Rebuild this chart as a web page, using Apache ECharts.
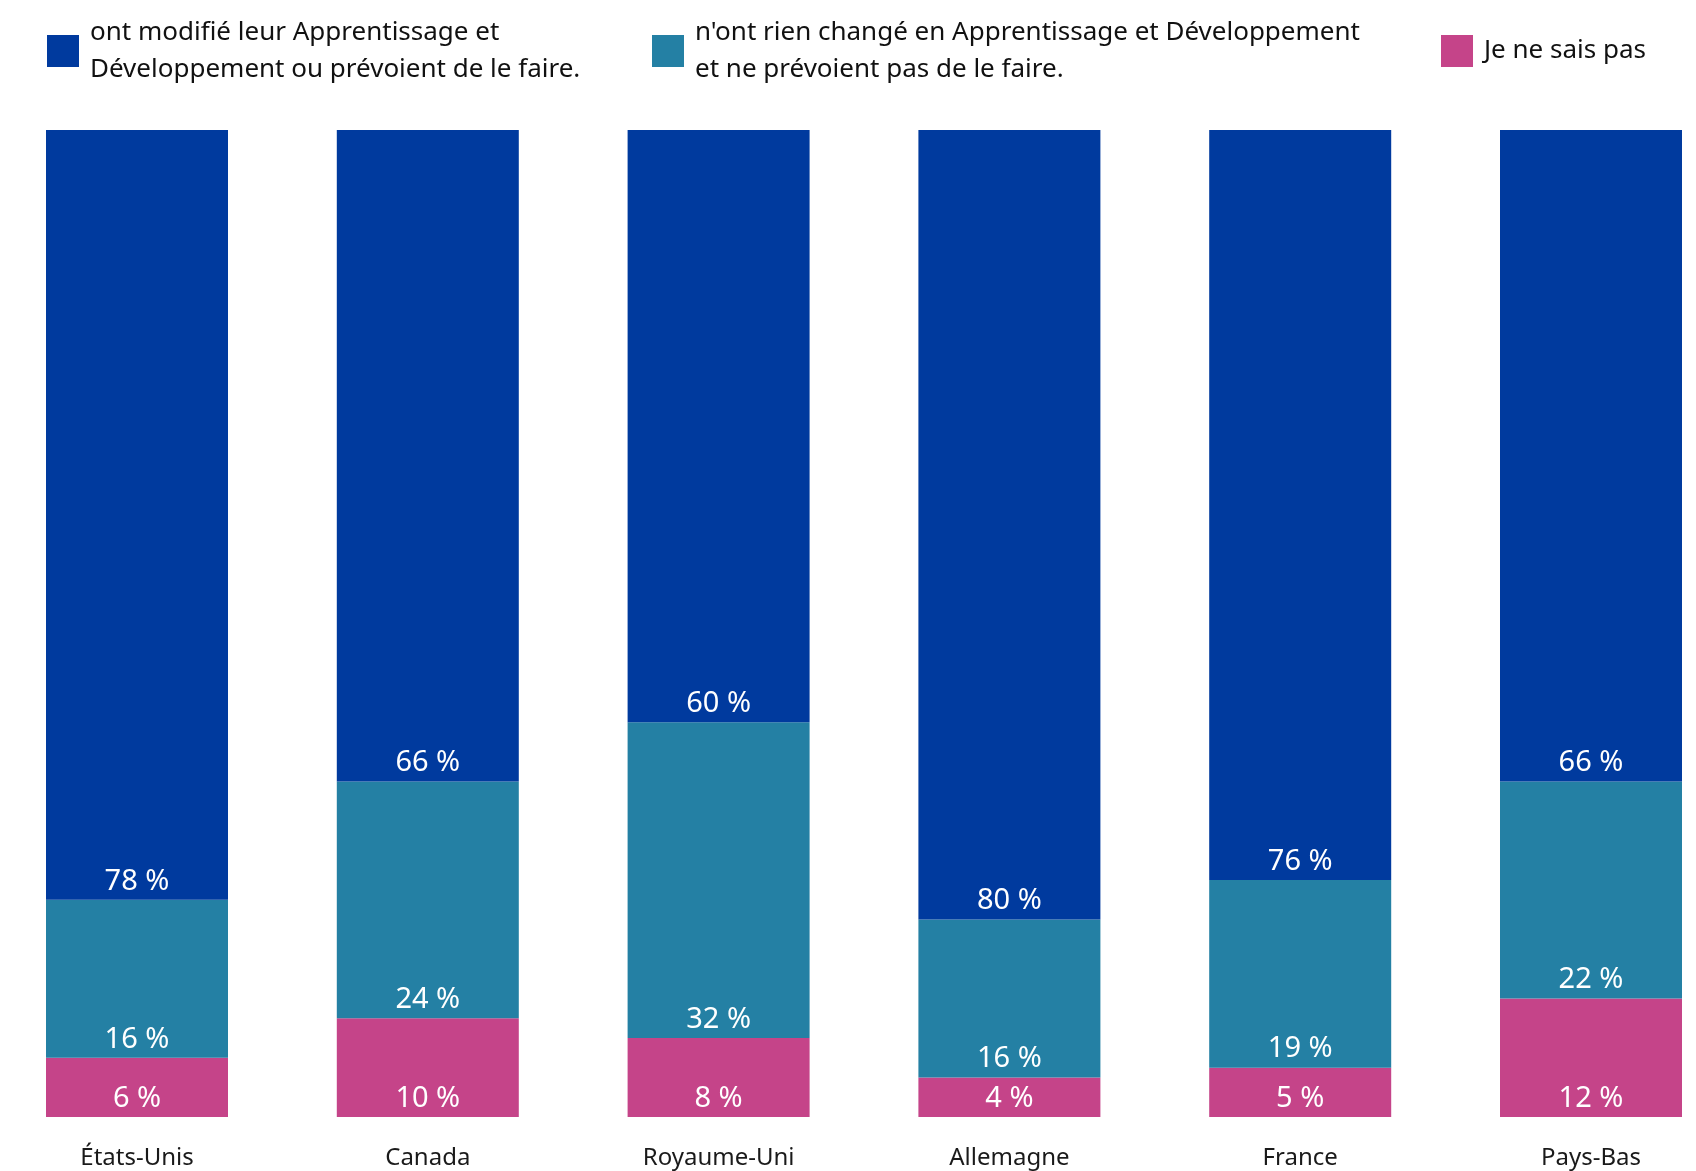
<!DOCTYPE html>
<html>
<head>
<meta charset="utf-8">
<script src="https://cdn.jsdelivr.net/npm/echarts@6/dist/echarts.min.js"></script>
<style>
  html, body { margin: 0; padding: 0; background: #ffffff; }
  #chart { width: 1696px; height: 1171px; }
</style>
</head>
<body>
<div id="chart"></div>
<script>
// Countries along the axis
const countries = ['États-Unis', 'Canada', 'Royaume-Uni', 'Allemagne', 'France', 'Pays-Bas'];

// Share of respondents (%) per answer
const changedValues = [78, 66, 60, 80, 76, 66];
const unchangedValues = [16, 24, 32, 16, 19, 22];
const unknownValues = [6, 10, 8, 4, 5, 12];

const seriesNames = [
  'ont modifié leur Apprentissage et Développement ou prévoient de le faire.',
  "n'ont rien changé en Apprentissage et Développement et ne prévoient pas de le faire.",
  'Je ne sais pas'
];
const legendLabels = [
  'ont modifié leur Apprentissage et\nDéveloppement ou prévoient de le faire.',
  "n'ont rien changé en Apprentissage et Développement\net ne prévoient pas de le faire.",
  'Je ne sais pas'
];

const colors = ['#003A9E', '#2480A4', '#C54489'];
const FONT = '"Noto Sans", "Open Sans", sans-serif';

const chart = echarts.init(document.getElementById('chart'), null, { renderer: 'canvas' });

function legendAt(idx, left, top, padTop) {
  return {
    show: true,
    data: [seriesNames[idx]],
    left: left,
    top: top,
    padding: 0,
    selectedMode: false,
    icon: 'rect',
    itemWidth: 32,
    itemHeight: 32,
    formatter: () => legendLabels[idx],
    textStyle: {
      fontFamily: FONT,
      fontSize: 26,
      lineHeight: 37,
      color: '#111111',
      padding: [padTop, 0, 0, 6]
    }
  };
}

function barSeries(idx, values) {
  return {
    name: seriesNames[idx],
    type: 'bar',
    stack: 'total',
    barWidth: 182,
    clip: false,
    data: values,
    itemStyle: { color: colors[idx] },
    emphasis: { disabled: true },
    label: {
      show: true,
      position: 'insideBottom',
      distance: 4,
      formatter: p => p.value + ' %',
      color: '#ffffff',
      fontFamily: FONT,
      fontSize: 29
    }
  };
}

chart.setOption({
  animation: false,
  backgroundColor: '#ffffff',
  legend: [legendAt(0, 47, 10, 8), legendAt(1, 652, 10, 8), legendAt(2, 1441, 28.5, 8)],
  // Bars are centred on the ticks, so the grid spans first to last bar centre
  grid: { left: 137, right: 105, top: 130, bottom: 54, containLabel: false },
  xAxis: {
    type: 'category',
    data: countries,
    boundaryGap: false,
    axisLine: { show: false },
    axisTick: { show: false },
    splitLine: { show: false },
    axisLabel: {
      margin: 29,
      color: '#1a1a1a',
      fontFamily: FONT,
      fontSize: 24
    }
  },
  yAxis: {
    type: 'value',
    min: 0,
    max: 100,
    show: false,
    splitLine: { show: false }
  },
  series: [
    barSeries(2, unknownValues),
    barSeries(1, unchangedValues),
    barSeries(0, changedValues)
  ]
});
</script>
</body>
</html>
